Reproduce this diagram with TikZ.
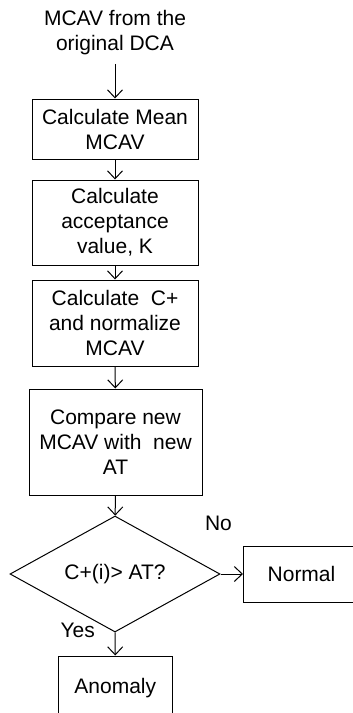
\documentclass[tikz,border=0pt]{standalone}
\usepackage{fontspec}
\setmainfont{Liberation Sans}
\usetikzlibrary{positioning,shapes.geometric,arrows.meta}

\begin{document}
\begin{tikzpicture}[x=1pt,y=-1pt,line width=1pt,font=\fontsize{21}{25}\selectfont,
  stepbox/.style={draw,align=center,inner sep=0pt},
  flow/.style={-{Straight Barb[length=8pt,width=15pt]}}]
\useasboundingbox (0,0) rectangle (353,713);
\node (src) [align=center,inner sep=8pt] at (115,33) {MCAV from the\\original DCA};
\node (mean) [stepbox,minimum width=166pt,minimum height=60pt] at (115,129) {Calculate Mean\\MCAV};
\node (accept) [stepbox,minimum width=166pt,minimum height=85pt] at (115,222.5) {Calculate\\acceptance\\value, K};
\node (cplus) [stepbox,minimum width=166pt,minimum height=86pt] at (115,323) {Calculate~ C+\\and normalize\\MCAV};
\node (comp) [stepbox,minimum width=173pt,minimum height=106pt] at (115.5,442) {Compare new\\MCAV with~ new\\AT};
\node (dec) [draw,diamond,aspect=1.8,minimum width=210pt,minimum height=116pt,inner sep=0pt] at (115,574) {C+(i)> AT?};
\node (normal) [stepbox,minimum width=116pt,minimum height=56pt] at (301.5,574) {Normal};
\node (anom) [stepbox,minimum width=114pt,minimum height=64pt] at (115.3,688) {Anomaly};
\node (no) at (218.5,523) {No};
\node (yes) at (77.7,630) {Yes};

\draw [flow] (src) -- (mean);
\draw [flow] (mean) -- (accept);
\draw [flow] (accept) -- (cplus);
\draw [flow] (cplus) -- (comp);
\draw [flow] (comp) -- (dec);
\draw [flow] (dec) -- (normal);
\draw [flow] (dec) -- (anom);
\end{tikzpicture}
\end{document}
